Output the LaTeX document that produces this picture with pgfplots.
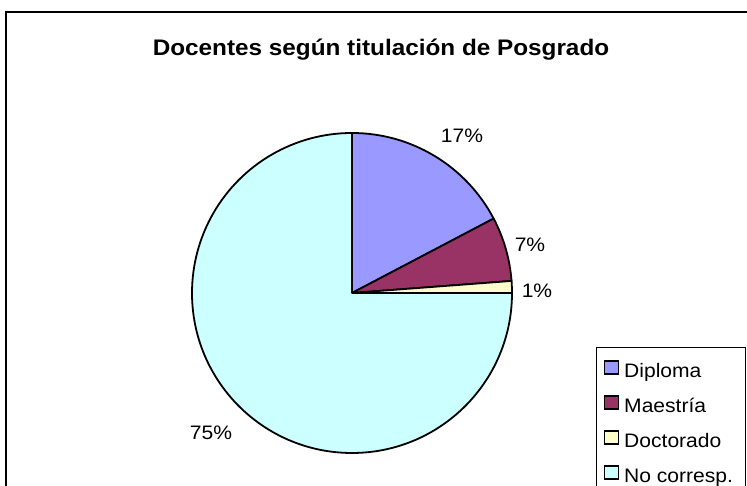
\documentclass[border=0pt]{standalone}
\usepackage{pgfplots}
\pgfplotsset{compat=1.18}
\usepackage{fontspec}
\setmainfont{Liberation Sans}[FakeStretch=1.08]
\definecolor{cDip}{HTML}{9999FF}
\definecolor{cMae}{HTML}{993366}
\definecolor{cDoc}{HTML}{FFFFCC}
\definecolor{cNoc}{HTML}{CCFFFF}
% values (percent)
\def\vDip{17.3}
\def\vMae{6.5}
\def\vDoc{1.2}
\def\vNoc{75.0}
\pgfmathsetmacro\aA{90}
\pgfmathsetmacro\aB{\aA-\vDip*3.6}
\pgfmathsetmacro\aC{\aB-\vMae*3.6}
\pgfmathsetmacro\aD{\aC-\vDoc*3.6}
\pgfmathsetmacro\aE{\aD-\vNoc*3.6}
\newcommand\lbl{\fontsize{19.5bp}{23bp}\selectfont}
\begin{document}
\begin{tikzpicture}[x=1bp,y=1bp]
\clip (0,0) rectangle (747,486);
\fill[white] (0,0) rectangle (747,486);
% outer frame
\draw[black, line width=1.3bp] (6,{486-12}) rectangle (770,-30);
% title
\node[anchor=base, inner sep=0pt, font=\fontsize{22.5bp}{27bp}\selectfont\bfseries] at (381,{486-56}) {Docentes según titulación de Posgrado};
\begin{axis}[at={(352bp,193bp)}, anchor=center, hide axis, scale only axis,
  width=320bp, height=320bp, xmin=-1, xmax=1, ymin=-1, ymax=1, clip=false]
\filldraw[fill=cDip, draw=black, line width=1.8bp, line join=round] (axis cs:0,0) -- (axis cs:{cos(\aA)},{sin(\aA)}) arc[start angle=\aA, end angle=\aB, radius=160bp] -- cycle;
\filldraw[fill=cMae, draw=black, line width=1.8bp, line join=round] (axis cs:0,0) -- (axis cs:{cos(\aB)},{sin(\aB)}) arc[start angle=\aB, end angle=\aC, radius=160bp] -- cycle;
\filldraw[fill=cDoc, draw=black, line width=1.8bp, line join=round] (axis cs:0,0) -- (axis cs:{cos(\aC)},{sin(\aC)}) arc[start angle=\aC, end angle=\aD, radius=160bp] -- cycle;
\filldraw[fill=cNoc, draw=black, line width=1.8bp, line join=round] (axis cs:0,0) -- (axis cs:{cos(\aD)},{sin(\aD)}) arc[start angle=\aD, end angle=\aE, radius=160bp] -- cycle;
\end{axis}
% data labels
\node[anchor=base, inner sep=0pt, font=\lbl] at (462,{486-143}) {17\%};
\node[anchor=base, inner sep=0pt, font=\lbl] at (530,{486-252}) {7\%};
\node[anchor=base, inner sep=0pt, font=\lbl] at (537,{486-298}) {1\%};
\node[anchor=base, inner sep=0pt, font=\lbl] at (211,{486-440}) {75\%};
% legend
\draw[black, line width=1bp] (596,-20) -- (596,{486-348}) -- (745,{486-348}) -- (745,-20);
\foreach \c/\t [count=\i from 0] in {cDip/Diploma, cMae/Maestría, cDoc/Doctorado, cNoc/No corresp.}{
  \pgfmathsetmacro\yb{486-(377.3+35*\i)}
  \filldraw[fill=\c, draw=black, line width=1.8bp] (604.5,{\yb+3.5}) rectangle (618.5,{\yb+16.5});
  \node[anchor=base west, inner sep=0pt, font=\lbl] at (624,\yb) {\t};
}
\end{tikzpicture}
\end{document}
